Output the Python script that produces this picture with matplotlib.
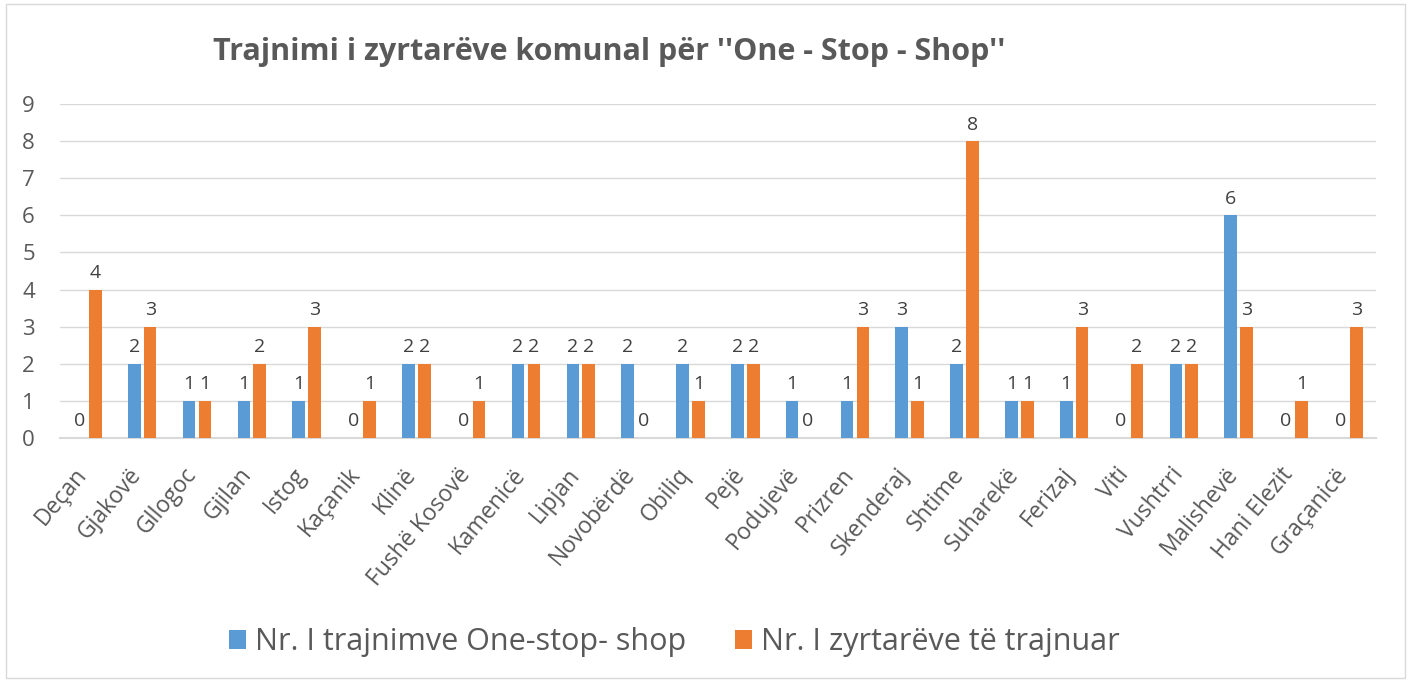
import matplotlib.pyplot as plt
import matplotlib.transforms as mtransforms
import numpy as np
from matplotlib.patches import Rectangle

plt.rcParams['font.family'] = ['Open Sans', 'DejaVu Sans']

municipalities = ['Deçan', 'Gjakovë', 'Gllogoc', 'Gjilan', 'Istog', 'Kaçanik', 'Klinë',
                  'Fushë Kosovë', 'Kamenicë', 'Lipjan', 'Novobërdë', 'Obiliq', 'Pejë',
                  'Podujevë', 'Prizren', 'Skenderaj', 'Shtime', 'Suharekë', 'Ferizaj',
                  'Viti', 'Vushtrri', 'Malishevë', 'Hani Elezit', 'Graçanicë']
trainings = [0, 2, 1, 1, 1, 0, 2, 0, 2, 2, 2, 2, 2, 1, 1, 3, 2, 1, 1, 0, 2, 6, 0, 0]
officials = [4, 3, 1, 2, 3, 1, 2, 1, 2, 2, 0, 1, 2, 0, 3, 1, 8, 1, 3, 2, 2, 3, 1, 3]

label_trainings = 'Nr. I trajnimve One-stop- shop'
label_officials = 'Nr. I zyrtarëve të trajnuar'
blue = '#5b9bd5'
orange = '#ed7d31'
grey_text = '#595959'

fig = plt.figure(figsize=(14.11, 6.81), dpi=100)
fig.patches.append(Rectangle((0.004, 0.004), 0.992, 0.99, transform=fig.transFigure,
                             fill=False, edgecolor='#d9d9d9', linewidth=1))
ax = fig.add_axes([0.0425, 0.357, 0.9325, 0.49])

x = np.arange(len(municipalities))
w = 0.23
off = 0.145
b1 = ax.bar(x - off, trainings, w, color=blue, label=label_trainings, zorder=3)
b2 = ax.bar(x + off, officials, w, color=orange, label=label_officials, zorder=3)

for bars in (b1, b2):
    for rect in bars:
        h = rect.get_height()
        ax.text(rect.get_x() + rect.get_width() / 2, h + 0.2, str(int(h)),
                ha='center', va='bottom', fontsize=14, color='#404040')

ax.set_xlim(-0.5, len(municipalities) - 0.5)
ax.set_ylim(0, 9)
ax.set_yticks(range(10))
ax.yaxis.grid(True, color='#d9d9d9', linewidth=1, zorder=0)
for s in ['top', 'right', 'left']:
    ax.spines[s].set_visible(False)
ax.spines['bottom'].set_color('#d9d9d9')
ax.spines['bottom'].set_linewidth(1.5)
ax.tick_params(axis='both', length=0, labelsize=16, colors=grey_text)
ax.tick_params(axis='y', pad=18)
ax.tick_params(axis='x', pad=18, labelsize=16.5)
ax.set_xticks(x)
ax.set_xticklabels(municipalities, rotation=50, ha='right', rotation_mode='anchor')
# shift the rotated labels a little to the left, like the original
shift = mtransforms.ScaledTranslation(-10 / 72, 0, fig.dpi_scale_trans)
for lbl in ax.get_xticklabels():
    lbl.set_transform(lbl.get_transform() + shift)

fig.text(0.432, 0.924, "Trajnimi i zyrtarëve komunal për ''One - Stop - Shop''",
         ha='center', va='center', fontsize=22, fontweight='bold', color=grey_text)

fig.legend(handles=[b1, b2], loc='center', bbox_to_anchor=(0.478, 0.057), ncol=2,
           frameon=False, fontsize=22, labelcolor=grey_text, handlelength=0.55,
           handleheight=0.55, columnspacing=1.6, handletextpad=0.3)

fig.savefig('out.png', dpi=100)
